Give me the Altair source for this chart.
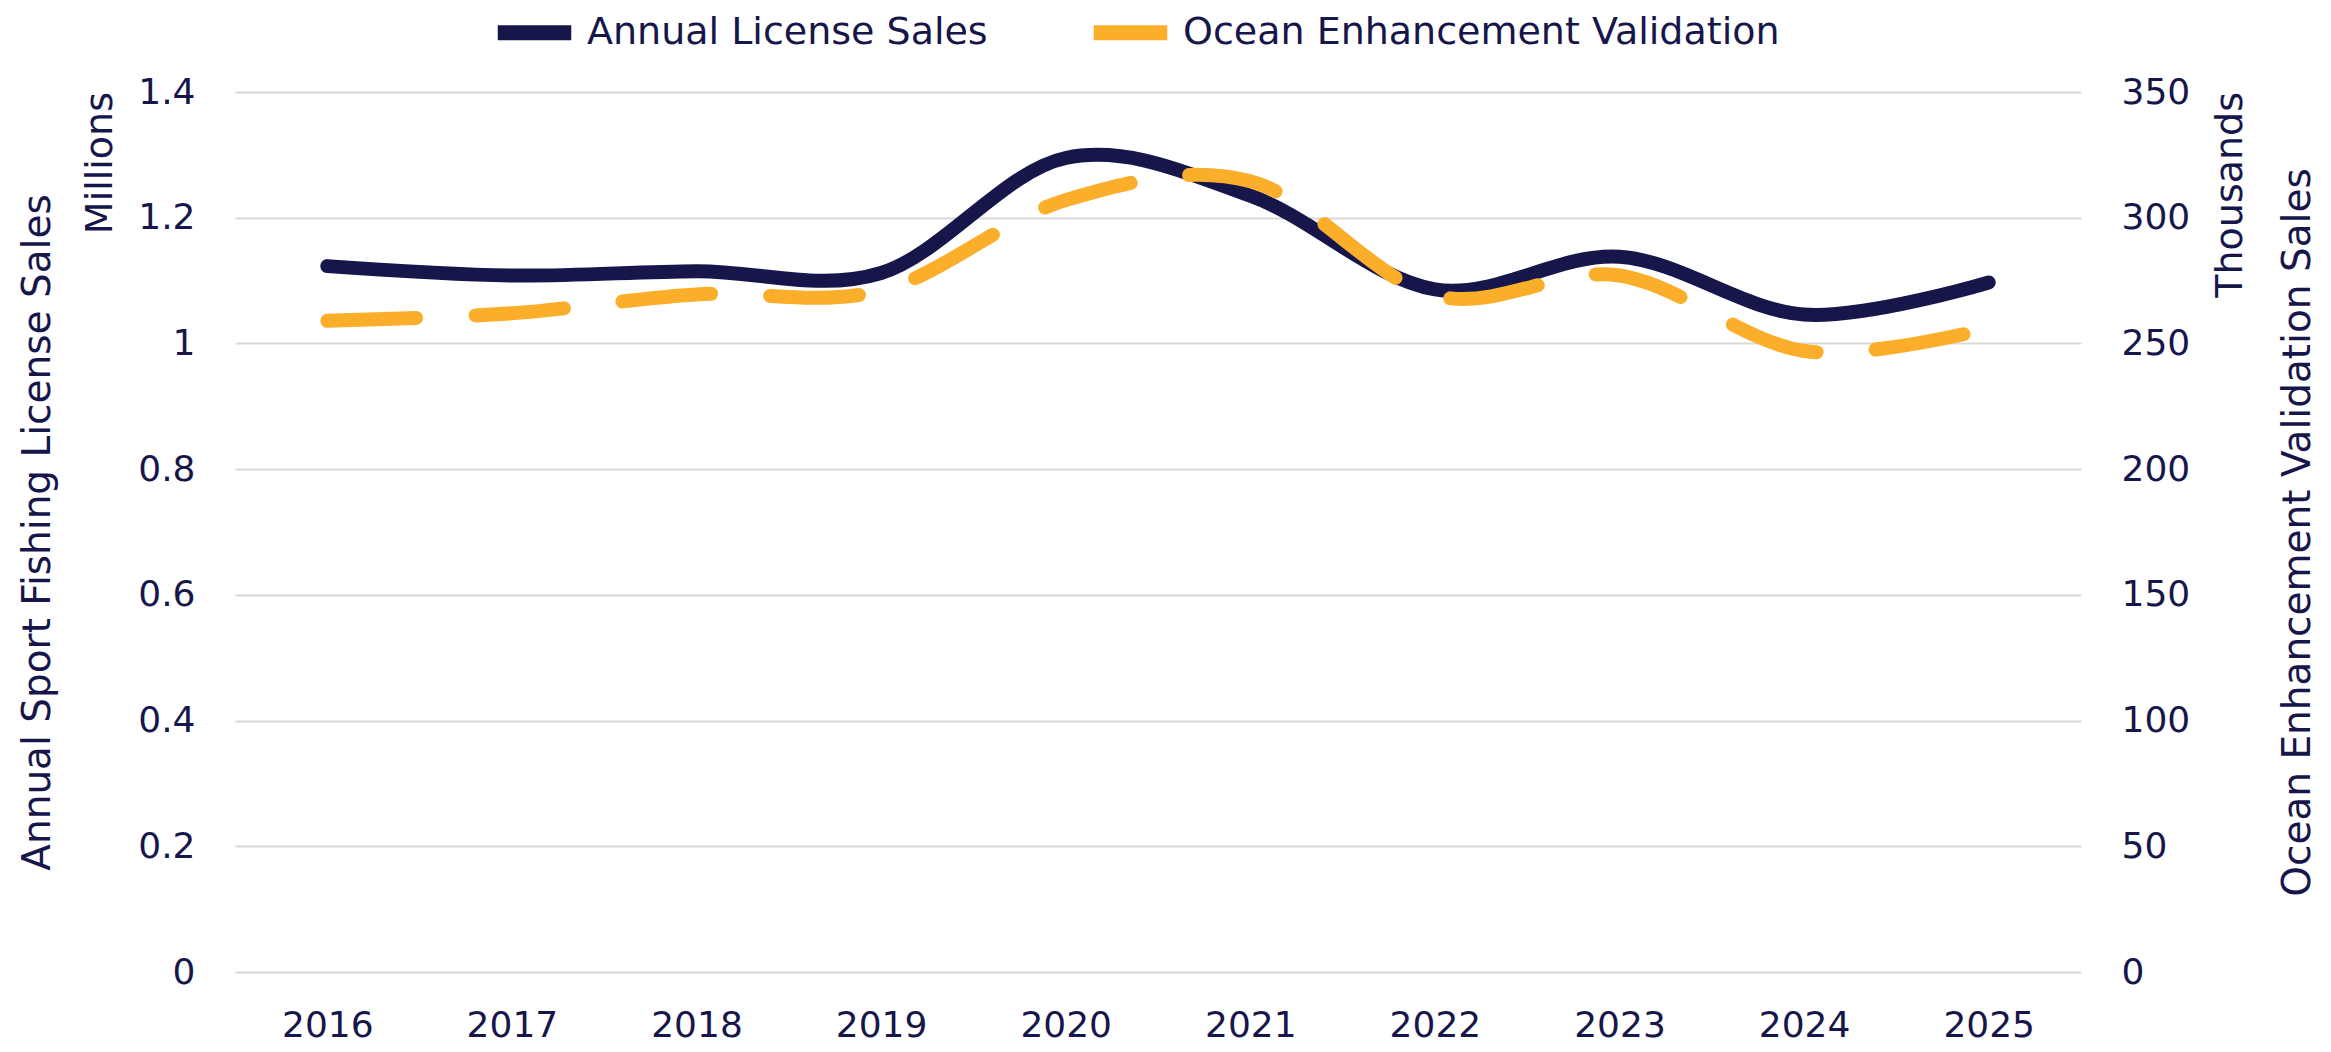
import altair as alt
import pandas as pd

years = ["2016", "2017", "2018", "2019", "2020", "2021", "2022", "2023", "2024", "2025"]
license_sales = [1.123, 1.108, 1.115, 1.112, 1.295, 1.235, 1.086, 1.138, 1.046, 1.097]  # millions
ocean_sales = [259, 262, 269.5, 271, 307, 314.5, 269, 277, 247, 256]  # thousands
series_names = ["Annual License Sales", "Ocean Enhancement Validation"]
left_ticks = [0, 0.2, 0.4, 0.6, 0.8, 1.0, 1.2, 1.4]
right_ticks = [0, 50, 100, 150, 200, 250, 300, 350]

df = pd.DataFrame({
    "year": years + years,
    "series": [series_names[0]] * len(years) + [series_names[1]] * len(years),
    "value": license_sales + ocean_sales,
})

NAVY = "#16164B"
ORANGE = "#FAAE2A"
GRID = "#D9D9D9"
FONT = "DejaVu Sans"
W, H = 1846, 880

x_enc = alt.X(
    "year:N",
    sort=years,
    axis=alt.Axis(
        title=None, labelAngle=0, ticks=False, domain=False, labelPadding=36,
        labelFontSize=36, labelFont=FONT, labelColor=NAVY,
    ),
)

color_enc = alt.Color(
    "series:N",
    scale=alt.Scale(domain=series_names, range=[NAVY, ORANGE]),
    legend=alt.Legend(
        title=None, orient="none", legendX=255, legendY=-104, direction="horizontal",
        symbolType="stroke", symbolStrokeWidth=15, symbolSize=5400,
        labelFontSize=38, labelFont=FONT, labelColor=NAVY, labelLimit=0,
        columnPadding=75, labelOffset=8, symbolDash=[1, 0],
    ),
)

base = alt.Chart(df)

license_line = base.transform_filter(
    alt.datum.series == series_names[0]
).mark_line(interpolate="cardinal", strokeWidth=14, strokeCap="round").encode(
    x=x_enc,
    y=alt.Y(
        "value:Q",
        scale=alt.Scale(domain=[0, 1.4], nice=False, zero=True),
        axis=alt.Axis(
            orient="left", values=left_ticks, format="~g", grid=True, gridColor=GRID,
            gridWidth=2, ticks=False, domain=False, labelPadding=40, labelFontSize=36,
            labelFont=FONT, labelColor=NAVY,
            title="Annual Sport Fishing License Sales", titleFont=FONT,
            titleFontSize=39, titleFontWeight="normal", titleColor=NAVY,
            titleAngle=270, titleX=-198, titleY=H / 2, titleAlign="center",
            titleBaseline="middle",
        ),
    ),
    color=color_enc,
)

ocean_line = base.transform_filter(
    alt.datum.series == series_names[1]
).mark_line(
    interpolate="cardinal", strokeWidth=14, strokeCap="round", strokeDash=[89, 59]
).encode(
    x=x_enc,
    y=alt.Y(
        "value:Q",
        scale=alt.Scale(domain=[0, 350], nice=False, zero=True),
        axis=alt.Axis(
            orient="right", values=right_ticks, grid=False,
            ticks=False, domain=False, labelPadding=40, labelFontSize=36,
            labelFont=FONT, labelColor=NAVY,
            title="Ocean Enhancement Validation Sales", titleFont=FONT,
            titleFontSize=39, titleFontWeight="normal", titleColor=NAVY,
            titleAngle=270, titleX=216, titleY=H / 2, titleAlign="center",
            titleBaseline="middle",
        ),
    ),
    color=color_enc,
)

unit_df = pd.DataFrame({"label": ["Millions"], "v": [1.4]})
millions = alt.Chart(unit_df).mark_text(
    angle=270, align="right", baseline="middle", fontSize=38, font=FONT, color=NAVY
).encode(
    x=alt.value(-134),
    y=alt.Y("v:Q", scale=alt.Scale(domain=[0, 1.4], nice=False), axis=None),
    text="label:N",
)

unit_df2 = pd.DataFrame({"label": ["Thousands"], "v": [350]})
thousands = alt.Chart(unit_df2).mark_text(
    angle=270, align="right", baseline="middle", fontSize=38, font=FONT, color=NAVY
).encode(
    x=alt.value(W + 150),
    y=alt.Y("v:Q", scale=alt.Scale(domain=[0, 350], nice=False), axis=None),
    text="label:N",
)

chart = alt.layer(license_line, ocean_line, millions, thousands).resolve_scale(
    y="independent", color="shared"
).properties(
    width=W, height=H,
    autosize=alt.AutoSizeParams(type="none"),
    padding={"left": 227, "top": 84, "right": 242, "bottom": 72},
    background="white",
).configure_view(stroke=None)

chart.save("out.html", embed_options={"renderer": "svg", "actions": False})
